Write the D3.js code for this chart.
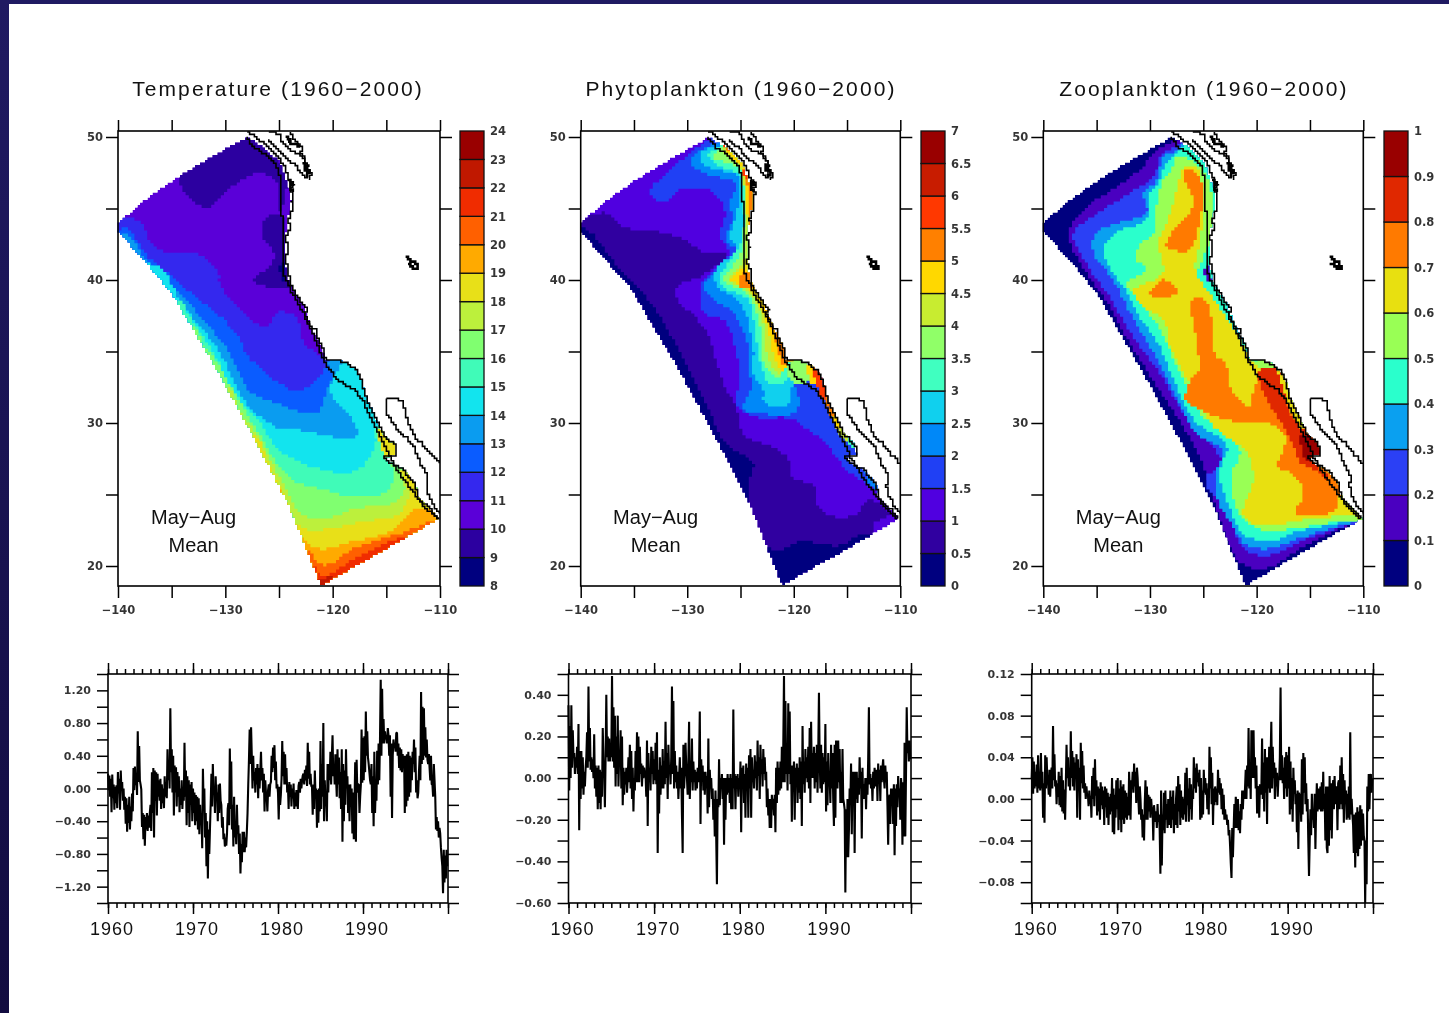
<!DOCTYPE html>
<html>
<head>
<meta charset="utf-8">
<script src="https://cdn.jsdelivr.net/npm/d3@7"></script>
<style>
html, body { margin: 0; padding: 0; background: #fff; }
svg { display: block; filter: blur(0.55px); }
text { font-family: "DejaVu Sans", sans-serif; fill: #111; }
.axis path, .axis line { stroke: #000; stroke-width: 1.5; }
.axis path { fill: none; }
</style>
</head>
<body>
<div id="chart"></div>
<script>
// colour levels, one colour per band
var tempLevels = [8,9,10,11,12,13,14,15,16,17,18,19,20,21,22,23,24];
var tempColors = ["#00007f","#2c00a0","#5a00d8","#3428ee","#0a5cff","#0a9cf0","#12e4ee","#40fbb8","#80ff70","#bcf03c","#e8e018","#ffaa00","#ff6000","#f02c00","#c01800","#990000"];
var phytoLevels = [0,0.5,1,1.5,2,2.5,3,3.5,4,4.5,5,5.5,6,6.5,7];
var phytoColors = ["#00007f","#3000a0","#5000e0","#2040f4","#0088f8","#10d0ee","#40ffc0","#90ff68","#c8ec30","#ffd800","#ff8000","#ff3800","#c81c00","#990000"];
var zooLevels = [0,0.1,0.2,0.3,0.4,0.5,0.6,0.7,0.8,0.9,1];
var zooColors = ["#00007f","#4a00c0","#2b40f5","#0aa0f0","#2affcc","#99ff55","#e8e010","#ff7a00","#e02800","#990000"];

// model domain, lon/lat
var domain = [[-140,44],[-137.4,45.7],[-134.25,47.3],[-130.2,49.1],[-128,50],[-126.5,49.3],[-124.9,48.2],[-124.45,47.2],[-124,46.3],[-123.85,45.45],[-124.15,44.2],[-124.4,42.95],[-124.4,41.2],[-124,39.7],[-122.75,38.2],[-122,36.7],[-120.9,35.2],[-120.7,34.45],[-119,34.3],[-117.8,33.7],[-117.3,32.95],[-116.85,31.7],[-115.75,29.95],[-115.3,29.2],[-114.2,28.45],[-114.1,27.75],[-115.15,27.6],[-114.65,27.2],[-113.4,26.7],[-112.3,25.7],[-112,24.7],[-110.9,23.95],[-110.15,23.25],[-121.05,18.6],[-124,24.1],[-127.1,28.7],[-130.2,32.95],[-135.05,39.2],[-140,43.45]];

// coast lines
var gridEdge = [[-128,50],[-127.4,49.3],[-126.15,48.7],[-125.2,47.95],[-124.85,46.95],[-124.75,44.7],[-124.6,42.95],[-124.6,40.45],[-123.7,38.95],[-122.75,37.7],[-121.8,36.2],[-120.9,34.45],[-119.8,33.2],[-118.7,32.6],[-117.95,32.3],[-117.15,31.45],[-116.2,29.95],[-115.3,28.7],[-114.65,27.55],[-113.75,26.45],[-112.3,24.95],[-111.55,24.2],[-110.15,23.25]];
var coastMain = [[-128,50.35],[-127.4,50.1],[-126.5,49.6],[-125.2,48.7],[-124.6,48.1],[-124.2,47.3],[-124,46.95],[-123.5,46.6],[-124,46.3],[-123.6,46],[-123.85,45.45],[-123.7,45],[-124.15,44.2],[-123.9,43.6],[-124.4,42.95],[-124.1,42.3],[-124.4,41.2],[-124.1,40.8],[-124,39.7],[-122.75,38.2],[-122.3,37.9],[-122.6,37.6],[-122,36.7],[-121.4,36.4],[-121.6,36.1],[-120.9,35.2],[-120.7,34.45],[-119,34.3],[-117.8,33.7],[-117.3,32.95],[-116.85,31.7],[-115.75,29.95],[-115.3,29.2],[-114.2,28.45],[-114.1,27.75],[-115.15,27.6],[-114.65,27.2],[-113.4,26.7],[-112.3,25.7],[-112,24.7],[-110.9,23.95],[-110.15,23.25]];
var coastSound = [[-126,50.4],[-124.9,50.2],[-124.75,49.6],[-124,49.1],[-123.05,48.8],[-122.3,47.95],[-122.45,47.2],[-122.9,47.45],[-123.5,48.1],[-124.45,48.6],[-125.2,49.3],[-126,49.8]];
var coastStrait = [[-124,50.3],[-123.4,49.6],[-122.75,49.3],[-123.05,48.8],[-122.6,48.5],[-122.3,47.6],[-121.9,47.4],[-122.2,47]];
var gulfWest = [[-115,31.8],[-114.9,31.05],[-115,30.7],[-114.3,29.9],[-113.75,29.3],[-113.2,29],[-112.5,28.45],[-112.2,27.9],[-111.85,27.2],[-111.1,26.2],[-111.3,25.6],[-111.1,24.95],[-110.5,24.1],[-110,23.7]];
var gulfEast = [[-115,31.8],[-114.2,31.7],[-113.4,31.45],[-113.2,30.6],[-112.95,29.95],[-112.35,28.95],[-111.7,28.6],[-110.9,27.8],[-110.5,27.6],[-110.05,27.1]];
var saltLake = [[-113.1,41.7],[-112.75,41.3],[-112.3,41.3],[-112.1,40.8],[-112.5,40.7],[-112.7,41.1],[-113.1,41.2]];
// heavier clusters of small islands
var patchA = [[-124.3,50],[-123.9,49.7],[-124.1,49.6],[-123.4,49.5],[-123.05,49.3]];
var patchB = [[-122.75,48.1],[-122.2,48],[-122.6,47.7],[-122.1,47.6],[-122.4,47.2]];
var patchC = [[-124.1,47],[-123.6,46.7],[-124,46.5],[-123.7,46.1]];

// band regions as [level, points], painted in order, clipped to the domain
var tempBase = 10;
var tempRegions = [
  [11, [[-141,44.1],[-138,44.1],[-136.9,42.5],[-135.3,41.9],[-132.3,41.7],[-130.65,40.45],[-130.5,39.7],[-128.9,38.2],[-126.4,36.7],[-124.9,37.8],[-123.3,37.2],[-122.75,35.7],[-120.9,34.6],[-117,34.6],[-108,30],[-108,15],[-125,15],[-142,40]]],
  [12, [[-139.5,43.7],[-137.35,41.7],[-134.85,40.1],[-131.8,38.2],[-130.2,37.2],[-128.65,35.95],[-128.2,34.95],[-125.85,33.2],[-123.4,32.3],[-121.25,33.2],[-120.45,34.1],[-117,34.6],[-108,30],[-108,15],[-125,15],[-142,40]]],
  [13, [[-139.5,43.2],[-137.05,41.1],[-133.5,38.45],[-129.5,34.7],[-127.7,32.2],[-125.2,31.35],[-122.75,30.7],[-121.5,30.7],[-120.6,32.2],[-120,33.45],[-120.45,34.3],[-117,34.6],[-108,30],[-108,15],[-125,15],[-142,40]]],
  [14, [[-136.4,41],[-134.15,38.45],[-130.35,34.7],[-128.8,32.2],[-127.25,30.7],[-125.25,29.7],[-122.75,29.45],[-120.25,29.05],[-117.75,29.1],[-118.2,30.4],[-119.6,31.4],[-120.2,32.5],[-119.6,33.7],[-119,34.3],[-117,34.6],[-108,30],[-108,15],[-125,15],[-142,40]]],
  [15, [[-134.5,38.6],[-133.2,37.2],[-131,34.7],[-129.3,32.2],[-126.5,29.7],[-125.25,28.2],[-123.7,27.45],[-121.25,26.8],[-118.75,26.5],[-117.3,26.95],[-116,28.65],[-115.9,29.7],[-112,29.7],[-108,29],[-108,15],[-125,15],[-142,30]]],
  [16, [[-133.2,36.85],[-131.9,35.2],[-131.2,34.7],[-130.05,33.2],[-127.25,29.7],[-125.25,27.2],[-123.7,25.95],[-121.5,25.45],[-117.8,24.8],[-115,25.2],[-114.3,26.45],[-114.65,27.45],[-112.8,27.2],[-108,27],[-108,15],[-125,15],[-142,30]]],
  [17, [[-130,32.6],[-128.65,30.7],[-127.55,29.7],[-125.85,27.45],[-124.45,25.45],[-123.05,23.7],[-120.9,23.3],[-117.8,24.05],[-114.65,24.3],[-113.25,25.45],[-113.75,26.6],[-112.8,27.2],[-108,27],[-108,15],[-125,15],[-142,25]]],
  [18, [[-127.4,29.2],[-126.15,27.45],[-124.75,25.2],[-123.05,22.7],[-120.9,22.55],[-117.8,23.05],[-113.75,23.7],[-112.65,25.2],[-112.2,24.95],[-108,25],[-108,15],[-125,15],[-142,25]]],
  [19, [[-125.25,25.45],[-124,23.7],[-122.75,21.85],[-121.2,21.2],[-118.7,21.6],[-114.65,22.45],[-112,24.05],[-110.15,23.7],[-108,23],[-108,15],[-125,15],[-130,25]]],
  [20, [[-122.75,21.2],[-120.9,20.05],[-118.1,21.2],[-113.1,22.45],[-110.6,23.15],[-108,23],[-108,15],[-125,15]]],
  [21, [[-122,20.05],[-120.9,19.3],[-117.8,20.6],[-113.75,21.95],[-108,22],[-108,15],[-125,15]]],
  [22, [[-121.5,19.1],[-120.9,19.1],[-120,19.4],[-120.9,18.4]]],
  [18, [[-115.9,29.45],[-115.15,29.45],[-114.2,28.6],[-114.1,27.7],[-115,27.6],[-115.6,28.7]]],
  [18, [[-113.75,26.7],[-112.95,26.7],[-112.2,25.55],[-112,24.7],[-112.65,25.05],[-113.4,26.3]]],
  [9, [[-128,50.2],[-134.25,47.6],[-133.6,45.85],[-131.75,45.05],[-129.6,46.45],[-126.8,47.5],[-125.2,46.7],[-124.9,44.7],[-124.3,47.2],[-125.7,49.1]]],
  [9, [[-124.75,44.6],[-126,44.45],[-126.65,42.95],[-125.7,42.3],[-125.55,41.2],[-127.4,39.95],[-125.25,39.4],[-124,39.45],[-124.3,41.45]]],
  [8, [[-124.9,41.2],[-124.45,41.2],[-124.45,39.95],[-124.9,40.45]]]
];

var phytoBase = 1;
var phytoRegions = [
  [0.5, [[-140.7,44.05],[-137.85,44.7],[-136,43.7],[-133.2,43.45],[-130.7,42.95],[-128.5,41.95],[-126.3,41.7],[-128.2,40.45],[-129.75,39.95],[-131,39.45],[-131,38.7],[-129.4,37.45],[-128.2,36.45],[-127.55,34.95],[-126.6,32.7],[-125.35,30.95],[-125.05,29.7],[-124.4,28.95],[-121.9,28.3],[-120.5,27.45],[-120.2,26.3],[-117.85,25.45],[-117.85,24.3],[-116.3,23.45],[-114.1,23.7],[-113,24.7],[-111,23.55],[-112.55,22.95],[-112.55,22.2],[-110.2,19.7],[-121.9,17.2],[-142.25,29.7],[-142.25,44]]],
  [0, [[-140.7,43.7],[-139.05,43.3],[-137.85,42.2],[-136,40.45],[-133.5,38.45],[-130.7,34.95],[-128.2,31.2],[-126.3,28.45],[-123.8,27.2],[-124.3,25.45],[-123.5,22.45],[-121.9,21.1],[-119.4,21.7],[-115.7,21.45],[-113.8,22.2],[-112.6,22.2],[-108,20],[-121.9,17],[-142.25,29.7]]],
  [1.5, [[-127.85,49.8],[-130.35,48.45],[-131.95,47.45],[-133.5,46.2],[-132.4,45.45],[-130.7,46.3],[-127.85,46.3],[-126.45,44.7],[-126.95,42.95],[-126,41.8],[-128.5,39.95],[-128.8,38.7],[-128.5,37.7],[-126.6,37.2],[-125.5,35.2],[-125.05,33.2],[-125.35,31.2],[-123.8,30.45],[-120.35,30.3],[-119.1,29.7],[-116.9,28.45],[-114.7,26.45],[-112.55,25.45],[-111.9,24.95],[-109.4,27.2],[-115,38],[-115,50.45],[-123.8,51]]],
  [2, [[-127.25,49.6],[-129.1,48.8],[-129.6,48.2],[-128.8,47.6],[-127.25,47.2],[-125.35,46.7],[-126,45.45],[-125.7,44.2],[-126.45,42.95],[-125.35,41.95],[-127.55,40.45],[-128.5,39.45],[-127.25,38.45],[-125.7,37.7],[-124.1,34.95],[-124.25,33.7],[-123.95,32.45],[-124.75,30.95],[-122.55,30.6],[-120.35,30.6],[-119.4,31.45],[-120.05,32.95],[-119.1,33.2],[-120.5,34.2],[-118.8,34.7],[-115,38],[-115,50.45],[-123.8,51]]],
  [2.5, [[-127.25,49.3],[-128.5,49.05],[-128.8,48.2],[-127.25,47.7],[-125.2,47.2],[-125.35,44.7],[-126,42.95],[-125.35,42.2],[-127.25,40.7],[-127.55,39.95],[-126.6,39.2],[-125.05,38.45],[-123.8,35.2],[-123.8,33.45],[-122.85,32.2],[-122.85,31.45],[-120.65,31.3],[-120.05,32.7],[-119.1,33.2],[-120.5,34.2],[-118.8,34.7],[-115,38],[-115,50.45],[-123.8,51]]],
  [3, [[-127.25,49.2],[-128.2,48.7],[-127.25,48.05],[-125.05,47.3],[-124.9,46.45],[-124.75,42.95],[-125.7,41.7],[-126.95,39.95],[-126.3,39.3],[-124.4,38.7],[-123.5,35.7],[-123.15,34.2],[-122.2,32.7],[-120.65,32.95],[-120.5,34.2],[-118.8,34.7],[-115,38],[-115,50.45],[-123.8,51]]],
  [3.5, [[-126.9,49.05],[-127.55,48.55],[-125.05,47.7],[-124.75,42.95],[-125.2,41.45],[-126.6,39.95],[-124.4,39.05],[-123.15,36.7],[-122.85,34.2],[-121.6,33.2],[-120.5,34.2],[-118.8,34.7],[-115,38],[-115,50.45],[-123.8,51]]],
  [4, [[-126.6,49.05],[-125.05,47.8],[-124.6,42.95],[-124.75,41.2],[-126,39.95],[-124.25,39.2],[-122.85,36.95],[-122.4,34.45],[-121.3,33.45],[-120.5,34.2],[-118.8,34.7],[-115,38],[-115,50.45],[-123.8,51]]],
  [4.5, [[-126.3,49.05],[-124.9,47.8],[-124.35,42.95],[-124.5,41],[-126,39.95],[-124.4,39.45],[-122.55,36.95],[-121.9,34.7],[-121.15,33.6],[-120.5,34.2],[-118.8,34.7],[-115,38],[-115,50.45],[-123.8,51]]],
  [5, [[-126.15,49.3],[-124.75,48.05],[-124.25,42.95],[-124.25,40.7],[-125.05,40.3],[-125.05,39.45],[-123.8,39.45],[-122.25,37.2],[-121.45,34.95],[-121.15,34.1],[-120.5,34.2],[-118.8,34.7],[-115,38],[-115,50.45],[-123.8,51]]],
  [5.5, [[-126.75,49.6],[-124.75,48.3],[-124.6,47.2],[-123.8,47.2],[-124,50]]],
  [3.5, [[-120.2,34.4],[-118.2,34.2],[-118,33.1],[-119.75,32.8],[-120.6,33.6]]],
  [4.5, [[-118.6,34.3],[-118,33.9],[-117.7,33],[-118.4,32.7]]],
  [5.5, [[-118.2,34.1],[-117.3,33.4],[-116.6,31.95],[-117.2,31.7],[-118,33.1]]],
  [5, [[-117.05,31.95],[-116.3,31.45],[-115.8,30.2],[-116.3,30.3]]],
  [4.5, [[-116.3,30.45],[-115.8,30.3],[-115.5,29.55],[-116,29.55]]],
  [4, [[-115.8,29.7],[-115,29.3],[-114.7,28.7],[-115.35,28.95]]],
  [3, [[-115,29.2],[-114.25,28.8],[-114.1,28.2],[-114.9,28.6]]],
  [2, [[-113.3,26.6],[-112.05,25.95],[-111.9,25.1],[-112.7,25.6]]]
];

var zooBase = 0;
var zooRegions = [
  [0.1, [[-127.65,49.7],[-129.35,49.05],[-130.95,47.7],[-133.1,46.45],[-135.6,45.3],[-137.65,43.2],[-136.55,41.2],[-134.05,38.45],[-132.05,35.7],[-130.15,33.45],[-126.9,29.7],[-125,26.95],[-123.3,22.95],[-121.55,20.2],[-119.05,19.85],[-115.95,21.2],[-112.8,22.45],[-110.3,23.05],[-106.6,23],[-106.6,40],[-122,52]]],
  [0.2, [[-127.65,49.3],[-128.75,48.95],[-129.7,47.2],[-132.2,45.95],[-134.7,44.7],[-137.2,43.2],[-135.6,40.7],[-133.75,38.7],[-131.55,35.95],[-129.35,33.7],[-126.25,29.95],[-124.05,28.2],[-123.3,27.2],[-124.85,25.95],[-122.8,23.7],[-121.25,21.2],[-119.05,20.7],[-115.95,21.7],[-112.8,22.55],[-110.3,23.05],[-106.6,23],[-106.6,40],[-122,52]]],
  [0.3, [[-127.5,49.05],[-128.75,48.55],[-129.35,46.95],[-130.6,45.95],[-130.3,44.7],[-133.1,43.95],[-135.15,43.2],[-135.3,41.95],[-133.45,39.95],[-131.55,37.2],[-129.35,34.45],[-127.5,31.7],[-125.6,29.2],[-123.3,28.1],[-123.75,26.45],[-123.75,24.7],[-122.2,22.7],[-121.25,21.55],[-119.05,21.2],[-115.95,21.95],[-112.8,22.7],[-110.3,23.1],[-106.6,23],[-106.6,40],[-122,52]]],
  [0.4, [[-127.5,48.8],[-128.45,48.2],[-129.05,46.95],[-130,45.95],[-130.3,44.2],[-133.1,43.3],[-134.4,41.95],[-133.45,40.45],[-132.2,39.2],[-131.25,37.7],[-129.35,35.7],[-127.8,32.95],[-125.6,29.95],[-122.8,28.45],[-123.45,26.45],[-122.5,23.95],[-121.25,22.2],[-119.05,21.7],[-115.95,22.45],[-112.8,22.95],[-110.3,23.25],[-106.6,23.3],[-106.6,40],[-122,52]]],
  [0.5, [[-127.5,48.55],[-128.1,47.45],[-128.75,46.95],[-129.35,45.2],[-129.7,43.2],[-130.95,42.45],[-131.25,41.45],[-130.3,40.7],[-132.2,39.7],[-130.95,38.45],[-129.05,36.45],[-127.5,33.95],[-125.3,30.7],[-121.55,27.95],[-122.35,26.45],[-122.2,24.7],[-121.25,23.2],[-119.05,22.45],[-115.95,22.7],[-110.95,23.2],[-106.6,23.2],[-106.6,34.7],[-119.05,34.7],[-120.65,34.2],[-122.2,36.1],[-124.05,38.2],[-125.6,40.2],[-124.7,42.45],[-124.95,44.95],[-125,46.95],[-125.6,48.2]]],
  [0.5, [[-125.6,48.45],[-124.55,46.95],[-124.05,44.7],[-124.55,42.45],[-124.95,42.45],[-124.95,46.95]]],
  [0.6, [[-126.9,47.8],[-127.5,46.2],[-128.45,43.95],[-129.35,42.45],[-129.05,41.7],[-128.75,40.45],[-131.55,39.2],[-130.3,37.95],[-128.75,37.2],[-128.1,35.2],[-127.2,33.95],[-125.3,31.45],[-124.05,29.7],[-120.95,27.95],[-120.3,25.95],[-121.25,23.45],[-119.05,22.8],[-115.95,23.2],[-110.65,23.55],[-106.6,23.45],[-106.6,31],[-117.2,32.95],[-119.05,33.45],[-120.3,34.2],[-122.2,36.7],[-124.05,38.7],[-125.75,40.7],[-125.3,42.7],[-125,44.95],[-125.15,46.95],[-125.8,47.95]]],
  [0.7, [[-126.9,47.7],[-125.6,47.45],[-125,46.2],[-125.3,44.2],[-125.95,42.45],[-126.55,41.95],[-128.45,42.45],[-127.8,43.45],[-126.25,44.7],[-125.95,45.7],[-126.7,46.95]]],
  [0.7, [[-128.75,40.05],[-127.5,39.2],[-128.45,38.7],[-130,39.05]]],
  [0.7, [[-126.25,38.45],[-125,38.7],[-124.05,36.7],[-124.05,34.95],[-122.8,33.95],[-122.5,32.45],[-120.8,31.2],[-120,32.95],[-119.05,33.45],[-117.2,31.45],[-116.25,29.7],[-114.4,28.2],[-112.5,26.45],[-112.2,24.95],[-112.8,23.8],[-116.25,23.7],[-115.6,25.2],[-116.55,26.45],[-118.1,26.95],[-117.5,28.2],[-117.35,29.2],[-119.05,30.05],[-120.95,29.95],[-125.3,30.95],[-126.7,31.7],[-126.25,32.95],[-125.3,33.95],[-125.6,35.2],[-125.8,36.7]]],
  [0.8, [[-119.7,33.7],[-117.8,33.6],[-116.9,30.7],[-115.95,29.7],[-114.05,28.7],[-114.05,26.45],[-113.1,25.95],[-113.45,26.45],[-115.8,27.2],[-116.55,28.45],[-117.8,30.2],[-119.4,32.2]]],
  [0.9, [[-115.8,29.2],[-114.05,28.7],[-113.9,27.8],[-115.3,27.45],[-115.8,28.2]]],
  [0.6, [[-118.1,33.7],[-117.2,32.95],[-116.25,30.45],[-116.7,30.7],[-117.8,33.2]]],
  [0.6, [[-112.5,24.95],[-111.9,24.95],[-110.15,23.3],[-110.95,23.7]]],
  [0.1, [[-125,40.7],[-124.5,40.9],[-124.3,39.7],[-124.8,40.2]]]
];

// monthly anomalies 1960-1999
var tempAnom = [
 .18,-.02,.16,-.10,.12,-.29,.17,-.12,.05,-.26,.02,-.18,
 .04,-.24,.20,-.06,.12,-.26,.22,-.03,.08,-.15,.00,-.26,
 -.10,-.43,-.12,-.53,-.20,-.42,-.10,-.50,-.22,-.40,-.06,-.28,
 .25,-.02,.27,.04,.16,-.08,.70,.08,.52,.10,.05,-.01,
 -.47,-.30,-.62,-.32,-.70,-.35,-.50,-.30,-.52,-.33,-.48,-.30,
 -.20,-.52,.20,-.30,.25,-.60,.22,-.15,.20,-.33,.18,-.10,
 .10,-.15,.12,-.25,.05,-.18,.00,-.24,.15,-.10,.08,-.12,
 .48,.10,.30,.00,.98,.20,.48,-.05,.40,-.33,.28,-.05,
 .26,-.22,.20,-.10,.15,-.29,.00,-.20,.10,-.25,-.02,-.15,
 .56,-.10,.22,-.45,.15,-.30,.10,-.47,.05,-.20,.08,-.40,
 .00,-.30,-.05,-.45,-.08,-.40,-.10,-.50,-.12,-.56,-.20,-.45,
 -.30,-.73,.24,-.20,.00,-.60,-.30,-.95,-.40,-1.10,-.50,-.80,
 -.48,-.18,.18,-.22,.30,-.05,.00,-.30,.15,-.15,-.05,-.40,
 .05,-.30,.06,-.15,-.20,-.48,-.35,-.62,-.55,-.71,-.60,-.70,
 -.55,-.25,-.18,-.45,.49,-.25,.33,-.50,-.20,-.71,-.10,-.60,
 -.42,-.68,-.20,-.55,-.45,-.80,-.55,-1.04,-.68,-.90,-.53,-.78,
 -.53,-.78,-.60,-.72,-.53,-.30,.05,.35,.72,.30,.75,.40,
 .00,.40,.10,.20,-.05,.25,.05,.30,-.12,.25,.00,.22,
 .45,.10,.25,-.05,.18,-.28,.10,-.05,-.10,-.28,-.02,.05,
 -.10,.05,.08,.40,.20,.50,.25,.53,.10,.33,.00,.05,
 -.05,-.38,.02,-.20,-.08,.12,.58,.15,.45,.05,.42,.05,
 .25,-.05,.05,-.25,.08,-.10,.05,-.22,.00,-.12,.06,-.25,
 -.05,-.22,-.02,-.10,-.25,.03,.08,-.05,.12,.00,.10,.16,
 .18,.05,.23,.10,.28,.03,.56,.12,.45,.05,.18,.03,
 .02,-.32,.05,-.25,.22,-.10,.00,-.48,-.02,-.42,.00,-.28,
 .58,-.25,.30,-.10,.80,-.40,.10,-.15,-.10,-.40,.30,-.05,
 .30,.10,.45,.05,.38,.65,.15,.30,.05,.42,.12,-.10,
 .48,.05,.38,-.12,.20,-.25,.48,-.65,.30,-.40,.22,-.20,
 .48,.00,.15,-.30,.05,-.40,.05,-.20,.00,-.55,-.05,-.62,
 -.20,.32,-.65,.35,-.05,.05,.05,-.30,-.10,.05,.72,.07,
 .62,.10,.64,.20,.94,.40,.70,.38,.30,.20,.10,.05,
 .30,-.30,.15,-.46,.45,-.30,.02,-.15,.46,.05,.55,.10,
 .60,1.33,.40,1.22,.55,.85,.55,.70,.60,.65,.55,.74,
 .65,.40,.65,-.10,.55,-.36,.40,.60,.50,.55,.45,.68,
 .68,.40,.55,.25,.50,.22,.48,.20,.42,.25,.40,-.30,
 .40,-.22,.42,-.15,.45,-.10,.40,-.05,.38,.10,.45,.30,
 .60,.20,.50,-.05,.10,-.12,-.05,.20,.40,.10,1.18,.30,
 1.00,.35,.98,.40,.75,.38,.60,.35,.30,.42,.25,.10,
 .40,.05,.05,-.10,.30,.10,-.10,-.50,-.35,-.52,-.40,-.60,
 -.48,-.55,-.72,-.85,-.95,-1.28,-.75,-1.15,-.82,-1.10,-.75,-.95
];
var phytoAnom = [
 .35,-.06,.25,.00,.35,.05,.23,.10,.12,.02,.10,.05,
 .15,.02,.26,-.25,.13,-.10,.13,-.05,.10,-.08,.03,-.04,
 .05,.10,.22,.05,.44,.08,.24,.04,.10,.03,.09,.00,
 .21,-.05,.06,-.09,.05,-.15,.06,-.12,.04,-.15,.03,-.09,
 .24,.08,.05,-.14,.10,.40,.10,.20,.08,.19,.08,.15,
 .10,.49,.08,.34,.05,.30,-.04,.20,.02,.30,-.04,.10,
 .06,.23,-.05,.20,-.13,.05,-.08,.03,-.03,.05,-.07,.00,
 .10,-.02,.16,-.05,.13,-.10,.05,-.16,.00,-.06,.13,-.02,
 .22,-.02,.20,-.02,.15,.02,.07,-.04,.06,.00,.05,.02,
 .02,-.09,.18,-.23,.12,-.02,.05,-.06,.15,.02,.13,-.03,
 .09,-.01,.17,-.03,.22,-.36,.04,-.17,.10,-.08,.06,-.05,
 .14,-.05,.08,-.03,.27,.00,.12,-.10,.16,.02,.06,-.03,
 .10,.44,.02,.37,-.05,.13,-.02,.06,-.05,.03,-.10,.00,
 .10,-.05,.05,-.18,-.36,.16,-.05,.03,.17,.06,.00,-.08,
 .08,.27,-.10,.05,-.02,.19,-.06,.08,-.02,.04,-.06,.03,
 -.05,.05,-.02,.06,.32,-.22,.09,-.01,.06,-.06,.03,-.08,
 .03,-.05,.01,-.17,.19,-.14,.04,-.05,.00,-.10,-.05,-.20,
 -.10,-.28,-.06,-.28,-.51,-.10,-.14,.09,-.13,.00,-.05,.02,
 -.10,.00,-.32,.00,-.20,.00,-.08,.02,-.07,.00,-.12,.02,
 -.15,.00,-.15,.33,-.05,.02,-.15,.01,-.05,.02,-.09,.00,
 -.05,.08,-.26,.05,-.05,.06,-.12,.02,-.19,.07,-.05,.05,
 -.19,.11,-.05,.14,-.19,.10,-.02,.04,-.05,.11,.00,.08,
 -.06,.18,.01,.10,-.10,.16,.02,.09,-.04,.14,.02,.10,
 -.01,.03,-.14,-.05,-.18,-.10,-.24,-.10,-.24,-.08,-.15,-.10,
 -.18,-.08,-.26,.05,-.12,.08,-.08,.05,-.06,.08,-.05,.15,
 -.02,.15,.49,-.02,.37,.02,.15,-.06,.36,.02,.32,-.03,
 .06,-.21,.06,.00,.08,-.20,.05,-.03,.07,-.12,.05,-.07,
 .10,-.10,.08,-.23,.25,-.03,.08,-.07,.14,.00,.10,-.02,
 .15,-.05,.24,-.12,.27,.00,.12,.00,.15,-.05,.12,-.02,
 .16,-.07,.12,.41,.10,-.05,.16,-.07,.12,-.03,.10,-.02,
 .26,-.16,.08,-.13,.12,-.03,.00,-.12,.16,-.05,.12,-.10,
 -.23,.16,-.19,.18,.00,-.05,.18,-.02,.14,-.12,.03,-.12,
 .14,-.10,-.12,-.15,-.55,-.15,-.38,-.10,-.38,-.25,-.05,-.12,
 .07,-.27,.03,-.12,.03,-.36,.03,-.10,.03,-.12,.00,-.08,
 .10,-.05,.03,-.29,.05,-.10,-.03,-.10,.00,-.15,.00,-.08,
 .09,.34,-.03,.02,-.05,.00,-.11,.03,-.05,.05,-.04,.02,
 .04,-.11,.07,.00,.04,-.11,.06,-.02,.05,.09,.00,-.05,
 .06,-.02,.03,-.13,-.32,-.10,-.08,-.22,-.05,-.12,-.05,-.22,
 -.03,-.37,-.05,-.23,-.03,-.14,.01,-.09,-.05,-.20,.00,-.05,
 -.32,-.02,-.28,.17,-.28,.02,.34,.12,.18,.08,.18,.09
];
var zooAnom = [
 .020,.040,.005,.036,.010,.026,.012,.033,.006,.042,.010,.025,
 .008,.044,.010,.026,-.018,.015,-.023,.042,.010,.040,.018,.015,
 .004,.028,.002,.020,.030,.010,.070,.018,.043,.012,.018,-.005,
 .015,.002,.026,-.006,.022,-.008,.030,-.012,.018,-.014,.009,-.020,
 .015,.052,.020,.040,.012,.030,.008,.065,.020,.046,.012,.040,
 .008,.035,.020,.043,-.018,.038,.010,.030,-.020,.054,.015,.046,
 .010,.032,.006,.015,.000,.012,.003,.005,-.007,.008,-.005,.003,
 -.018,.022,.000,.030,-.007,.038,.003,.018,-.016,.012,-.012,.010,
 -.020,.016,-.006,.012,-.010,.008,-.025,.012,-.008,.010,-.018,.006,
 -.025,.002,-.015,.005,-.012,.020,-.032,.010,-.034,.004,-.018,.018,
 -.010,.020,-.030,.010,-.020,.018,-.032,.012,-.020,.014,-.024,.008,
 -.018,.006,-.020,.002,-.016,.026,.005,-.020,.018,.010,.026,.006,
 .034,.012,.026,-.004,.030,.020,.000,-.015,.012,.000,-.020,-.010,
 -.037,-.015,-.040,-.005,.018,-.020,.012,-.020,.004,-.012,.002,-.018,
 .000,-.010,-.008,-.040,-.006,-.015,-.022,-.012,-.028,-.005,-.022,-.015,
 -.030,-.072,.008,-.064,-.015,-.030,.006,-.033,.008,-.020,-.005,-.028,
 .000,-.018,-.025,.008,-.028,.002,-.020,.008,-.033,-.005,-.025,.000,
 .012,-.028,.022,-.012,.014,-.025,.008,-.018,.002,-.020,.000,-.015,
 .025,-.022,.030,-.006,.010,-.022,.020,-.010,.014,-.020,.008,.000,
 .040,.010,.030,.006,.034,.016,.025,.012,.028,-.020,.020,-.018,
 .008,-.015,.028,.006,.020,.004,.015,-.010,.010,-.015,.050,.010,
 .040,-.005,.025,-.025,.010,-.006,.012,-.003,.010,-.006,.028,.006,
 .020,.004,.015,-.010,.010,-.015,.004,-.020,-.010,-.020,-.015,-.025,
 -.020,-.035,-.030,-.045,-.062,-.076,-.028,-.056,-.030,-.005,-.028,.002,
 -.008,-.028,.000,-.030,-.012,-.033,-.005,-.020,.008,-.010,.008,.000,
 .010,.028,.000,.032,.012,.068,.010,.032,.000,.066,.020,.050,
 .066,.020,.040,.010,.032,-.014,.012,.010,-.018,.014,.004,.010,
 .058,.000,.035,-.012,.048,.006,.040,-.024,.040,.010,.050,.006,
 .040,.074,.010,.050,.020,.035,.000,.030,.012,.025,.002,.020,
 .018,.040,.107,.018,.042,.015,.030,.000,.040,.010,.045,.002,
 .042,.010,.050,-.015,.036,-.010,.020,-.022,.030,.005,.018,-.005,
 .005,-.032,.008,-.048,.006,-.012,.005,-.022,.038,-.015,.044,.006,
 .040,-.005,.015,-.012,.000,-.040,-.074,-.040,-.010,-.035,.005,-.020,
 -.012,-.028,.005,-.048,-.010,.015,-.012,.010,-.010,-.005,.012,-.012,
 .016,-.012,.026,-.010,.005,-.040,.012,-.047,-.052,.012,-.045,.022,
 -.030,.015,-.038,.005,.018,-.010,.022,-.005,.010,.012,-.030,.015,
 .018,-.010,.032,-.005,.040,-.010,.024,-.023,.018,-.005,.008,-.020,
 .005,-.018,.012,-.020,.064,-.015,.000,-.015,-.025,-.052,-.015,-.066,
 -.013,-.052,-.008,-.055,-.012,-.048,-.006,-.045,-.010,-.040,-.014,-.035,
 -.040,-.100,-.040,-.082,.012,-.012,.024,-.010,.018,.024,.006,.020
];

// tick labels
var tsYearLabels = [1960,1970,1980,1990];
var tempTickLabels = ["1.20","0.80","0.40","0.00","\u22120.40","\u22120.80","\u22121.20"];
var tempTickVals = [1.2,0.8,0.4,0,-0.4,-0.8,-1.2];
var phytoTickLabels = ["0.40","0.20","0.00","\u22120.20","\u22120.40","\u22120.60"];
var phytoTickVals = [0.4,0.2,0,-0.2,-0.4,-0.6];
var zooTickLabels = ["0.12","0.08","0.04","0.00","\u22120.04","\u22120.08"];
var zooTickVals = [0.12,0.08,0.04,0,-0.04,-0.08];

var svg = d3.select("#chart").append("svg")
    .attr("width", 1449)
    .attr("height", 1013);

// page border
var grad = svg.append("defs").append("linearGradient")
    .attr("id","edge").attr("x1",0).attr("x2",0).attr("y1",0).attr("y2",1);
grad.append("stop").attr("offset","0%").attr("stop-color","#201a62");
grad.append("stop").attr("offset","100%").attr("stop-color","#120c40");
svg.append("rect").attr("width",1449).attr("height",1013).attr("fill","#fff");
svg.append("rect").attr("width",1449).attr("height",4).attr("fill","#201a62");
svg.append("rect").attr("width",9).attr("height",1013).attr("fill","url(#edge)");

var lonTicks = d3.range(-140,-109,5);
var latTicks = d3.range(20,51,5);

// sample a curve and snap to pixel blocks, the source gif is coarse
var tmpPath = svg.append("path").attr("fill","none").attr("stroke","none");
var stairLine = d3.line().curve(d3.curveStepAfter);
function blocky(d, cell) {
    tmpPath.attr("d", d);
    var node = tmpPath.node(), len = node.getTotalLength(), out = [], last = "";
    for (var s = 0; s <= len; s += cell/2) {
        var p = node.getPointAtLength(s);
        var c = [Math.round(p.x/cell)*cell, Math.round(p.y/cell)*cell];
        if (c.join() !== last) { out.push(c); last = c.join(); }
    }
    return stairLine(out);
}

function drawMap(name, left, right, barLeft, title, tx, levels, colors, base, regions) {
    var x = d3.scaleLinear().domain([-140,-110]).range([left,right]);
    var y = d3.scaleLinear().domain([20,50]).range([566,137]);
    var top = 131, bottom = 586;
    var color = d3.scaleThreshold().domain(levels.slice(1)).range(colors);
    var line = d3.line().x(function(d){return x(d[0]);}).y(function(d){return y(d[1]);});
    var smooth = d3.line().x(function(d){return x(d[0]);}).y(function(d){return y(d[1]);})
        .curve(d3.curveCatmullRomClosed.alpha(0.5));
    var g = svg.append("g");

    var domainPath = blocky(line(domain)+"Z", 2.5)+"Z";
    g.append("clipPath").attr("id","clip"+name)
      .append("path").attr("d", domainPath);
    var shade = g.append("g").attr("clip-path","url(#clip"+name+")");
    shade.append("path").attr("d", domainPath).attr("fill", color(base));
    shade.selectAll("path.band").data(regions).enter().append("path")
        .attr("class","band")
        .attr("d", function(d){ return blocky(smooth(d[1]), 3.2)+"Z"; })
        .attr("fill", function(d){ return color(d[0]); });

    // coast and grid edge
    g.selectAll("path.coast").data([gridEdge,coastMain,coastSound,coastStrait,gulfWest,gulfEast]).enter().append("path")
        .attr("class","coast").attr("d", function(d){ return blocky(line(d), 2.4); })
        .attr("fill","none").attr("stroke","#000").attr("stroke-width",1.6);
    g.selectAll("path.patch").data([patchA,patchB,patchC,saltLake]).enter().append("path")
        .attr("class","patch").attr("d", function(d){ return blocky(line(d), 2.4); })
        .attr("fill","none").attr("stroke","#000").attr("stroke-width",2.6);

    // axes
    var fmtLon = function(d){ return d % 10 === 0 ? "\u2212"+Math.abs(d) : ""; };
    var fmtLat = function(d){ return d % 10 === 0 ? d : ""; };
    var ax = g.append("g").attr("class","axis").attr("transform","translate(0,"+bottom+")")
        .call(d3.axisBottom(x).tickValues(lonTicks).tickSizeInner(12).tickSizeOuter(0).tickFormat(fmtLon));
    ax.selectAll("text").attr("font-size",11.5).attr("dy","1.1em").style("font-weight","bold").style("opacity",0.85);
    g.append("g").attr("class","axis").attr("transform","translate(0,"+top+")")
        .call(d3.axisTop(x).tickValues(lonTicks).tickSizeInner(11).tickSizeOuter(0).tickFormat(""));
    var ay = g.append("g").attr("class","axis").attr("transform","translate("+left+",0)")
        .call(d3.axisLeft(y).tickValues(latTicks).tickSizeInner(12).tickSizeOuter(0).tickFormat(fmtLat));
    ay.selectAll("text").attr("font-size",11.5).attr("x",-15).style("font-weight","bold").style("opacity",0.85);
    g.append("g").attr("class","axis").attr("transform","translate("+right+",0)")
        .call(d3.axisRight(y).tickValues(latTicks).tickSizeInner(12).tickSizeOuter(0).tickFormat(""));
    g.selectAll(".axis path.domain").remove();
    g.append("rect").attr("x",left).attr("y",top).attr("width",right-left).attr("height",bottom-top)
        .attr("fill","none").attr("stroke","#000").attr("stroke-width",1.6);

    // title and note
    g.append("text").attr("x",tx).attr("y",96).attr("text-anchor","middle")
        .attr("font-size",21).style("font-family","'Liberation Sans'").style("letter-spacing","2.1px").text(title);
    var mid = left + (right-left)*0.2345;
    g.append("text").attr("x",mid).attr("y",524).attr("text-anchor","middle")
        .attr("font-size",20).style("font-family","'Liberation Sans'").text("May\u2212Aug");
    g.append("text").attr("x",mid).attr("y",552).attr("text-anchor","middle")
        .attr("font-size",20).style("font-family","'Liberation Sans'").text("Mean");

    // colour bar
    var by = d3.scaleLinear().domain([levels[0],levels[levels.length-1]]).range([586,131]);
    g.selectAll("rect.cell").data(colors).enter().append("rect")
        .attr("class","cell")
        .attr("x",barLeft).attr("width",24)
        .attr("y",function(d,i){ return by(levels[i+1]); })
        .attr("height",function(d,i){ return by(levels[i])-by(levels[i+1]); })
        .attr("fill",function(d){ return d; })
        .attr("stroke","#111").attr("stroke-width",1.3);
    var bl = g.append("g").attr("transform","translate("+(barLeft+24)+",0)")
        .call(d3.axisRight(by).tickValues(levels).tickSize(0).tickPadding(6).tickFormat(function(d){ return d; }));
    bl.select(".domain").remove();
    bl.selectAll("text").attr("font-size",11.5).style("font-weight","bold").style("opacity",0.85);
}

drawMap("t",118,440,460,"Temperature (1960\u22122000)",278,tempLevels,tempColors,tempBase,tempRegions);
drawMap("p",580.7,900.3,921,"Phytoplankton (1960\u22122000)",741,phytoLevels,phytoColors,phytoBase,phytoRegions);
drawMap("z",1043.3,1363.3,1384,"Zooplankton (1960\u22122000)",1204,zooLevels,zooColors,zooBase,zooRegions);

function drawSeries(left, right, ymin, ymax, ystep, vals, tickVals, tickLabels) {
    var x = d3.scaleLinear().domain([1960,2000]).range([left,right]);
    var y = d3.scaleLinear().domain([ymin,ymax]).range([903,674]);
    var g = svg.append("g");
    var years = d3.range(1960,2001);
    var decades = years.filter(function(d){ return d % 10 === 0; });
    var yTicks = d3.range(Math.round((ymax-ymin)/ystep)+1).map(function(i){ return ymin+i*ystep; });

    var line = d3.line().x(function(d,i){ return x(1960+i/12); }).y(function(d){ return y(d); });
    g.append("path").attr("d",line(vals)).attr("fill","none").attr("stroke","#000")
        .attr("stroke-width",2.1).attr("stroke-linejoin","bevel");

    [[d3.axisBottom,903],[d3.axisTop,674]].forEach(function(a){
        g.append("g").attr("class","axis").attr("transform","translate(0,"+a[1]+")")
            .call(a[0](x).tickValues(years).tickSizeInner(5).tickSizeOuter(0).tickFormat(""));
        g.append("g").attr("class","axis").attr("transform","translate(0,"+a[1]+")")
            .call(a[0](x).tickValues(decades).tickSizeInner(11).tickSizeOuter(0).tickFormat(""));
    });
    g.append("g").attr("class","axis").attr("transform","translate("+left+",0)")
        .call(d3.axisLeft(y).tickValues(yTicks).tickSizeInner(11).tickSizeOuter(0).tickFormat(""));
    g.append("g").attr("class","axis").attr("transform","translate("+right+",0)")
        .call(d3.axisRight(y).tickValues(yTicks).tickSizeInner(11).tickSizeOuter(0).tickFormat(""));
    g.selectAll(".axis path.domain").remove();
    g.append("rect").attr("x",left).attr("y",674).attr("width",right-left).attr("height",229)
        .attr("fill","none").attr("stroke","#000").attr("stroke-width",1.6);

    g.selectAll("text.ylab").data(tickVals).enter().append("text")
        .attr("class","ylab")
        .attr("x",left-17).attr("y",function(d){ return y(d)+4; })
        .attr("text-anchor","end").attr("font-size",11)
        .style("font-weight","bold").style("opacity",0.85)
        .text(function(d,i){ return tickLabels[i]; });
    g.selectAll("text.xlab").data(tsYearLabels).enter().append("text")
        .attr("class","xlab")
        .attr("x",function(d){ return x(d)+4; }).attr("y",935)
        .attr("text-anchor","middle").attr("font-size",18)
        .style("font-family","'Liberation Sans'").style("letter-spacing","1px")
        .text(function(d){ return d; });
}

drawSeries(108,448,-1.4,1.4,0.2,tempAnom,tempTickVals,tempTickLabels);
drawSeries(568.5,911,-0.6,0.5,0.1,phytoAnom,phytoTickVals,phytoTickLabels);
drawSeries(1031.7,1373,-0.1,0.12,0.02,zooAnom,zooTickVals,zooTickLabels);
</script>
</body>
</html>
